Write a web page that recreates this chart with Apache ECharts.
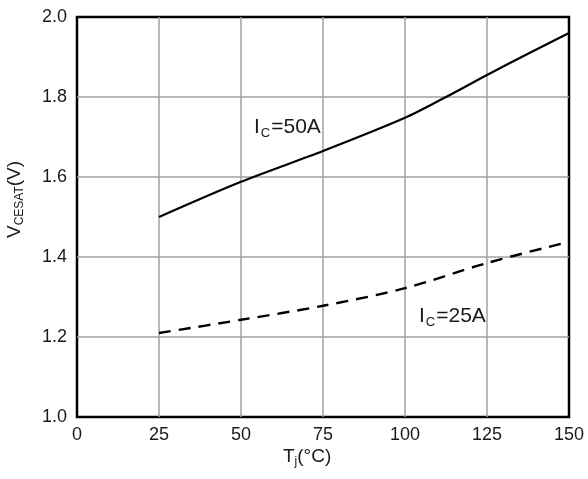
<!DOCTYPE html>
<html><head><meta charset="utf-8">
<script src="https://cdn.jsdelivr.net/npm/echarts@6/dist/echarts.min.js"></script>
<style>html,body{margin:0;padding:0;background:#fff}#c{width:588px;height:479px}</style>
</head><body><div id="c"></div>
<script>
const temps = [25, 50, 75, 100, 112.5, 125, 137.5, 150];
const ic50 = [1.50, 1.588, 1.665, 1.748, 1.80, 1.855, 1.908, 1.96];
const temps25 = [25, 50, 75, 100, 125, 150];
const ic25 = [1.21, 1.243, 1.278, 1.322, 1.385, 1.438];
const xTicks = [0, 25, 50, 75, 100, 125, 150];
const yTicks = [1.0, 1.2, 1.4, 1.6, 1.8, 2.0];

const chart = echarts.init(document.getElementById('c'));
const font = 'Liberation Sans, Arial, sans-serif';
const ink = '#1a1a1a';
const rich = {
  a: {fontSize: 19, fontFamily: font, fill: ink, color: ink},
  s: {fontSize: 12, fontFamily: font, fill: ink, color: ink, padding: [10, 0, 0, 0]}
};
const richBig = {
  a: {fontSize: 21, fontFamily: font, fill: ink, color: ink},
  s: {fontSize: 13, fontFamily: font, fill: ink, color: ink, padding: [11, 1, 0, 1]}
};
chart.setOption({
  animation: false,
  grid: {left: 77, right: 19, top: 17, bottom: 62, show: true, borderColor: '#000', borderWidth: 2.5},
  xAxis: {
    type: 'value', min: 0, max: 150, interval: 25,
    axisLine: {show: false}, axisTick: {show: false},
    splitLine: {showMinLine: false, showMaxLine: false, lineStyle: {color: '#a0a0a0', width: 1.5}},
    axisLabel: {color: ink, fontSize: 18, fontFamily: font, margin: 9,
      formatter: v => xTicks.includes(v) ? String(v) : ''}
  },
  yAxis: {
    type: 'value', min: 1.0, max: 2.0, interval: 0.2,
    axisLine: {show: false}, axisTick: {show: false},
    splitLine: {showMinLine: false, showMaxLine: false, lineStyle: {color: '#a0a0a0', width: 1.5}},
    axisLabel: {color: ink, fontSize: 18, fontFamily: font, margin: 10,
      formatter: v => { const t = yTicks.find(y => Math.abs(y - v) < 1e-6); return t === undefined ? '' : t.toFixed(1); }}
  },
  series: [
    {type: 'line', data: temps.map((t,i)=>[t, ic50[i]]), smooth: 0.3, symbol: 'none', lineStyle: {color: '#000', width: 2.2}},
    {type: 'line', data: temps25.map((t,i)=>[t, ic25[i]]), smooth: 0.3, symbol: 'none', lineStyle: {color: '#000', width: 2.4, type: [12, 8]}}
  ],
  graphic: [
    {type: 'text', left: 254, top: 117, style: {text: '{a|I}{s|C}{a|=50A}', rich: richBig}},
    {type: 'text', left: 419, top: 306, style: {text: '{a|I}{s|C}{a|=25A}', rich: richBig}},
    {type: 'text', left: 283, top: 447, style: {text: '{a|T}{s|j}{a|(°C)}', rich}},
    {type: 'text', x: 4, y: 238, rotation: Math.PI / 2, style: {text: '{a|V}{s|CESAT}{a|(V)}', rich}}
  ]
});
</script></body></html>
